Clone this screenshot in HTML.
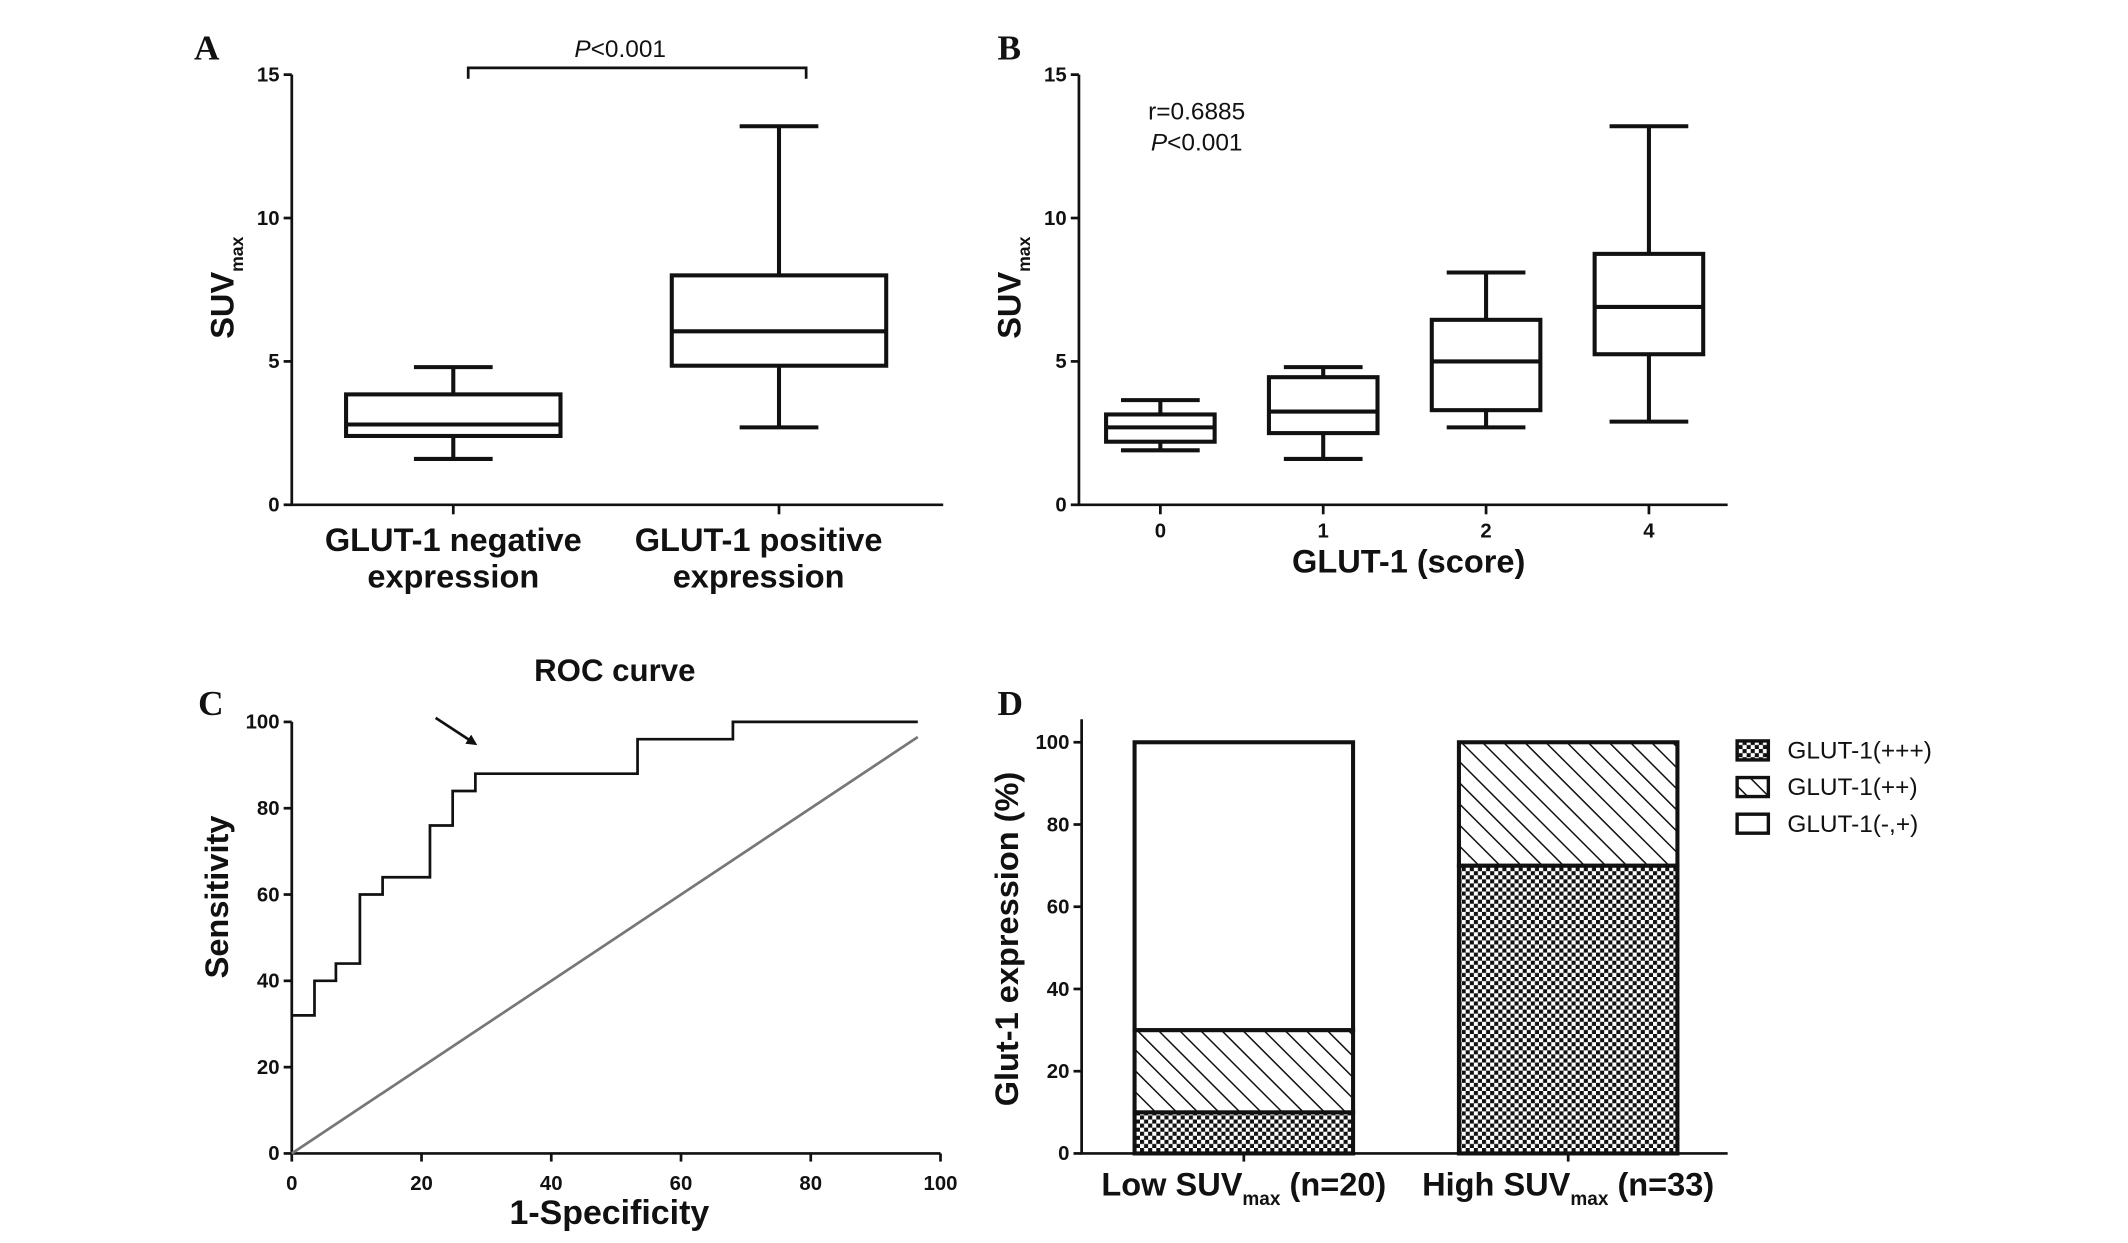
<!DOCTYPE html>
<html><head><meta charset="utf-8"><style>
html,body{margin:0;padding:0;background:#fff;}
svg{display:block;}
text{font-family:"Liberation Sans",Arial,sans-serif;fill:#111;}
.b{font-weight:bold;}
</style></head><body>
<svg id="fig" width="2128" height="1243" viewBox="0 0 1568 916" preserveAspectRatio="none" xmlns="http://www.w3.org/2000/svg">
<defs>
<pattern id="check" width="6" height="6" patternUnits="userSpaceOnUse">
<rect width="6" height="6" fill="#fff"/><rect width="3" height="3" fill="#111"/><rect x="3" y="3" width="3" height="3" fill="#111"/>
</pattern>
<pattern id="hatch" width="11" height="11" patternUnits="userSpaceOnUse" patternTransform="rotate(-45)">
<rect width="11" height="11" fill="#fff"/><line x1="0" y1="0" x2="0" y2="11" stroke="#111" stroke-width="2.2"/>
</pattern>
<marker id="arrowhead" markerWidth="8" markerHeight="8" refX="6" refY="4" orient="auto" markerUnits="userSpaceOnUse" viewBox="0 0 8 8"><path d="M0,0 L8,4 L0,8 z" fill="#111"/></marker>
</defs>
<g id="panelA"></g>
<g id="panelB"></g>
<g id="panelC"></g>
<g id="panelD"></g>
</svg>
<script>
// Panel A data
const aCategories = ["GLUT-1 negative expression", "GLUT-1 positive expression"];
const aMin = [1.6, 2.7];
const aQ1 = [2.4, 4.85];
const aMed = [2.8, 6.05];
const aQ3 = [3.85, 8.0];
const aMax = [4.8, 13.2];
const aTicks = [0, 5, 10, 15];
// Panel B data
const bCategories = ["0", "1", "2", "4"];
const bMin = [1.9, 1.6, 2.7, 2.9];
const bQ1 = [2.2, 2.5, 3.3, 5.25];
const bMed = [2.7, 3.25, 5.0, 6.9];
const bQ3 = [3.15, 4.45, 6.45, 8.75];
const bMax = [3.65, 4.8, 8.1, 13.2];
const bTicks = [0, 5, 10, 15];
// Panel C data (ROC steps)
const rocFpr = [0, 3.5, 6.8, 10.5, 14, 21.3, 24.8, 28.3, 53.3, 68];
const rocTpr = [32, 40, 44, 60, 64, 76, 84, 88, 96, 100];
const rocEnd = 96.5;
const refLine = [0, 96.5];
const cTicks = [0, 20, 40, 60, 80, 100];
// Panel D data
const dGroups = ["Low", "High"];
const dN = ["20", "33"];
const dStrong = [10, 70];
const dModerate = [20, 30];
const dWeak = [70, 0];
const dTicks = [0, 20, 40, 60, 80, 100];
const dSeriesNames = ["GLUT-1(+++)", "GLUT-1(++)", "GLUT-1(-,+)"];

const NS = "http://www.w3.org/2000/svg";
function mk(parent, tag, attrs, txt){
  const e = document.createElementNS(NS, tag);
  for (const k in attrs) e.setAttribute(k, attrs[k]);
  if (txt !== undefined) e.textContent = txt;
  parent.appendChild(e);
  return e;
}
function lin(d0,d1,r0,r1){return v=>r0+(v-d0)*(r1-r0)/(d1-d0);}

function boxPanel(g, xAxis0, xAxis1, centers, halfW, mins,q1,med,q3,maxs, ticks, names){
  const y = lin(0,15,372,55);
  const axis = mk(g,'path',{d:`M${xAxis0},${y(15)} V${y(0)} H${xAxis1}`,fill:'none',stroke:'#111','stroke-width':2});
  
  
  ticks.forEach(t=>{
    const tk = mk(g,'line',{x1:xAxis0-6,x2:xAxis0,y1:y(t),y2:y(t),stroke:'#111','stroke-width':2});
    
    
    const tl = mk(g,'text',{x:xAxis0-9,y:y(t)+5,'text-anchor':'end','font-size':15,class:'b'},String(t));
    
    
  });
  centers.forEach((cx,i)=>{
    const bg = mk(g,'g',{});
    
    
    const st = {stroke:'#111','stroke-width':3,fill:'none'};
    mk(bg,'line',Object.assign({x1:cx,x2:cx,y1:y(maxs[i]),y2:y(q3[i])},st));
    mk(bg,'line',Object.assign({x1:cx,x2:cx,y1:y(q1[i]),y2:y(mins[i])},st));
    mk(bg,'line',Object.assign({x1:cx-29,x2:cx+29,y1:y(maxs[i]),y2:y(maxs[i])},st));
    mk(bg,'line',Object.assign({x1:cx-29,x2:cx+29,y1:y(mins[i]),y2:y(mins[i])},st));
    mk(bg,'rect',Object.assign({x:cx-halfW,y:y(q3[i]),width:2*halfW,height:y(q1[i])-y(q3[i])},st));
    mk(bg,'line',Object.assign({x1:cx-halfW,x2:cx+halfW,y1:y(med[i]),y2:y(med[i])},st));
    const xt = mk(g,'line',{x1:cx,x2:cx,y1:y(0),y2:y(0)+7,stroke:'#111','stroke-width':2});
    
    
  });
  return y;
}

const gA = document.getElementById('panelA');
const yA = boxPanel(gA, 215, 695, [334,574], 79, aMin,aQ1,aMed,aQ3,aMax, aTicks, ['negative','positive']);
</script>
<script>
(function(){
const g = document.getElementById('panelA');
g.insertAdjacentHTML('beforeend', `
<text x="143" y="44" font-size="26" font-weight="bold" style="font-family:'Liberation Serif',serif">A</text>
<path d="M345,58 V50 H594 V58" fill="none" stroke="#111" stroke-width="2"/>
<text x="457" y="42" text-anchor="middle" font-size="18"><tspan font-style="italic">P</tspan>&lt;0.001</text>
<text transform="translate(172,212) rotate(-90)" text-anchor="middle" font-size="24" class="b">SUV<tspan font-size="13" dy="7">max</tspan></text>
<text x="334" y="406" text-anchor="middle" font-size="24" class="b">GLUT-1 negative</text>
<text x="334" y="433" text-anchor="middle" font-size="24" class="b">expression</text>
<text x="559" y="406" text-anchor="middle" font-size="24" class="b">GLUT-1 positive</text>
<text x="559" y="433" text-anchor="middle" font-size="24" class="b">expression</text>
`);
})();

const gB = document.getElementById('panelB');
const bCenters = [855,975,1095,1215];
boxPanel(gB, 795, 1273, bCenters, 40, bMin,bQ1,bMed,bQ3,bMax, bTicks, bCategories);
bCategories.forEach((c,i)=>{
  const t = mk(gB,'text',{x:bCenters[i],y:396,'text-anchor':'middle','font-size':15,class:'b'},c);
  
  
});
gB.insertAdjacentHTML('beforeend', `
<text x="735" y="44" font-size="26" font-weight="bold" style="font-family:'Liberation Serif',serif">B</text>
<text x="846" y="88" font-size="18">r=0.6885</text>
<text x="848" y="111" font-size="18"><tspan font-style="italic">P</tspan>&lt;0.001</text>
<text transform="translate(752,212) rotate(-90)" text-anchor="middle" font-size="24" class="b">SUV<tspan font-size="13" dy="7">max</tspan></text>
<text x="1038" y="422" text-anchor="middle" font-size="24" class="b">GLUT-1 (score)</text>
`);

const gC = document.getElementById('panelC');
const xC = lin(0,100,215,693), yC = lin(0,100,850,532);
const axC = mk(gC,'path',{d:`M${xC(0)},${yC(100)} V${yC(0)} H${xC(100)}`,fill:'none',stroke:'#111','stroke-width':2});


cTicks.forEach(t=>{
  mk(gC,'line',{x1:xC(0)-6,x2:xC(0),y1:yC(t),y2:yC(t),stroke:'#111','stroke-width':2});
  const yl = mk(gC,'text',{x:xC(0)-9,y:yC(t)+5,'text-anchor':'end','font-size':15,class:'b'},String(t));
  
  
  mk(gC,'line',{x1:xC(t),x2:xC(t),y1:yC(0),y2:yC(0)+6,stroke:'#111','stroke-width':2});
  const xl = mk(gC,'text',{x:xC(t),y:877,'text-anchor':'middle','font-size':15,class:'b'},String(t));
  
  
});
const diag = mk(gC,'line',{x1:xC(refLine[0]),y1:yC(refLine[0]),x2:xC(refLine[1]),y2:yC(refLine[1]),stroke:'#777','stroke-width':2});


let d = `M${xC(rocFpr[0])},${yC(rocTpr[0])}`;
for (let i=1;i<rocFpr.length;i++){ d += ` H${xC(rocFpr[i])} V${yC(rocTpr[i])}`; }
d += ` H${xC(rocEnd)}`;
const roc = mk(gC,'path',{d:d,fill:'none',stroke:'#111','stroke-width':2});


gC.insertAdjacentHTML('beforeend', `
<line x1="321" y1="529" x2="350" y2="548" stroke="#111" stroke-width="2" marker-end="url(#arrowhead)"/>
<text x="146" y="527" font-size="26" font-weight="bold" style="font-family:'Liberation Serif',serif">C</text>
<text x="453" y="502" text-anchor="middle" font-size="23" class="b">ROC curve</text>
<text transform="translate(168,661) rotate(-90)" text-anchor="middle" font-size="24" class="b">Sensitivity</text>
<text x="449" y="902" text-anchor="middle" font-size="25" class="b">1-Specificity</text>
`);

const gD = document.getElementById('panelD');
const yD = lin(0,100,850,547);
const dLeft = [836,1075], dW = 161;
const axD = mk(gD,'path',{d:`M797,530 V${yD(0)} H1273`,fill:'none',stroke:'#111','stroke-width':2});


dTicks.forEach(t=>{
  mk(gD,'line',{x1:791,x2:797,y1:yD(t),y2:yD(t),stroke:'#111','stroke-width':2});
  const yl = mk(gD,'text',{x:788,y:yD(t)+5,'text-anchor':'end','font-size':15,class:'b'},String(t));
  
  
});
const fills = ['url(#check)','url(#hatch)','#fff'];
dGroups.forEach((gname,i)=>{
  const vals = [dStrong[i], dModerate[i], dWeak[i]];
  let base = 0;
  vals.forEach((v,k)=>{
    if (v<=0) return;
    const r = mk(gD,'rect',{x:dLeft[i],y:yD(base+v),width:dW,height:yD(base)-yD(base+v),fill:fills[k],stroke:'#111','stroke-width':3});
    
    
    base += v;
  });
  const cx = dLeft[i]+dW/2;
  mk(gD,'line',{x1:cx,x2:cx,y1:yD(0),y2:yD(0)+6,stroke:'#111','stroke-width':2});
  const lbl = mk(gD,'text',{x:cx,y:881,'text-anchor':'middle','font-size':24,class:'b'});
  
  
  lbl.innerHTML = `${gname} SUV<tspan font-size="14" dy="7">max</tspan><tspan dy="-7"> (n=${dN[i]})</tspan>`;
});
dSeriesNames.forEach((n,k)=>{
  const ly = 546 + k*27;
  const lr = mk(gD,'rect',{x:1280,y:ly,width:23,height:14,fill:fills[k],stroke:'#111','stroke-width':2.5});
  
  
  const lt = mk(gD,'text',{x:1317,y:ly+13,'font-size':18},n);
  
  
});
gD.insertAdjacentHTML('beforeend', `
<text x="735" y="527" font-size="26" font-weight="bold" style="font-family:'Liberation Serif',serif">D</text>
<text transform="translate(750,692) rotate(-90)" text-anchor="middle" font-size="24" class="b">Glut-1 expression (%)</text>
`);
</script>
</body></html>
